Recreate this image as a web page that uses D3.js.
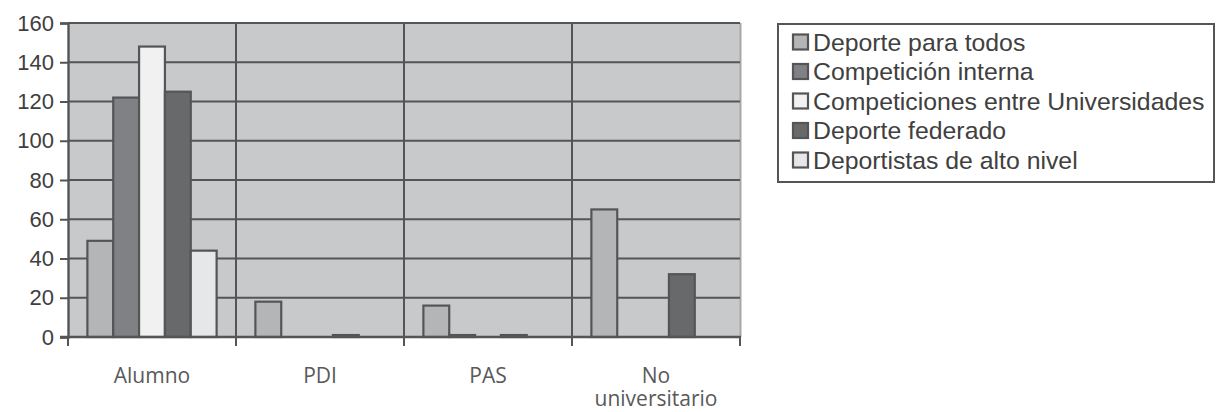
<!DOCTYPE html>
<html>
<head>
<meta charset="utf-8">
<script src="https://cdn.jsdelivr.net/npm/d3@7"></script>
<style>
  html, body { margin: 0; padding: 0; background: #ffffff; }
  svg { display: block; }
</style>
</head>
<body>
<svg id="chart" width="1216" height="412"></svg>
<script>
// Participants by group and type of sports activity
const categories = ["Alumno", "PDI", "PAS", "No universitario"];
const seriesNames = [
  "Deporte para todos",
  "Competición interna",
  "Competiciones entre Universidades",
  "Deporte federado",
  "Deportistas de alto nivel"
];
const deporteParaTodos      = [49, 18, 16, 65];
const competicionInterna    = [122, 0, 1, 0];
const competicionesEntreUni = [148, 0, 0, 0];
const deporteFederado       = [125, 1, 1, 32];
const deportistasAltoNivel  = [44, 0, 0, 0];
const yTicks = [0, 20, 40, 60, 80, 100, 120, 140, 160];

const seriesValues = [deporteParaTodos, competicionInterna, competicionesEntreUni, deporteFederado, deportistasAltoNivel];
const seriesColors = ["#b4b5b7", "#808184", "#f1f1f1", "#68696b", "#e6e7e8"];

const svg = d3.select("#chart");
const plot = { left: 68, right: 740, top: 23, bottom: 337 };
const lineColor = "#555556";

const x = d3.scaleBand().domain(categories).range([plot.left, plot.right]).paddingInner(0).paddingOuter(0);
const xInner = d3.scaleBand().domain(d3.range(seriesNames.length)).range([0, x.bandwidth()]).paddingInner(0).paddingOuter(0.75);
const y = d3.scaleLinear().domain([0, 160]).range([plot.bottom, plot.top]);

// plot background
svg.append("rect")
  .attr("x", plot.left).attr("y", plot.top)
  .attr("width", plot.right - plot.left).attr("height", plot.bottom - plot.top)
  .attr("fill", "#c8c9cb");

// right edge of the plot area
svg.append("line")
  .attr("x1", plot.right + 0.5).attr("x2", plot.right + 0.5)
  .attr("y1", plot.top).attr("y2", plot.bottom)
  .attr("stroke", "#a6a7a9").attr("stroke-width", 2);

// horizontal gridlines
svg.append("g").selectAll("line").data(yTicks.filter(d => d > 0)).join("line")
  .attr("x1", plot.left).attr("x2", plot.right)
  .attr("y1", d => y(d)).attr("y2", d => y(d))
  .attr("stroke", lineColor).attr("stroke-width", 2);

// vertical gridlines between categories
svg.append("g").selectAll("line").data(categories.slice(1)).join("line")
  .attr("x1", d => x(d)).attr("x2", d => x(d))
  .attr("y1", plot.top).attr("y2", plot.bottom)
  .attr("stroke", lineColor).attr("stroke-width", 2);

// bars
const groups = svg.append("g").selectAll("g").data(categories).join("g")
  .attr("transform", d => `translate(${x(d)},0)`);

groups.selectAll("rect")
  .data((c, ci) => seriesValues.map((vals, si) => ({ si, v: vals[ci] })).filter(d => d.v > 0))
  .join("rect")
  .attr("x", d => xInner(d.si))
  .attr("width", xInner.bandwidth())
  .attr("y", d => y(d.v))
  .attr("height", d => y(0) - y(d.v))
  .attr("fill", d => seriesColors[d.si])
  .attr("stroke", lineColor)
  .attr("stroke-width", 2.2);

// y axis
const yAxis = svg.append("g")
  .attr("transform", `translate(${plot.left},0)`)
  .call(d3.axisLeft(y).tickValues(yTicks).tickSize(8).tickPadding(6));
yAxis.select(".domain").attr("stroke", lineColor).attr("stroke-width", 2.4);
yAxis.selectAll(".tick line").attr("stroke", lineColor).attr("stroke-width", 2);
yAxis.selectAll(".tick text")
  .attr("font-family", "Liberation Sans, Arial, sans-serif")
  .attr("font-size", 22).attr("fill", "#404040");

// x axis
const xAxis = svg.append("g")
  .attr("transform", `translate(0,${plot.bottom})`)
  .call(d3.axisBottom(x).tickSize(0).tickFormat(""));
xAxis.select(".domain").remove();
svg.append("line")
  .attr("x1", plot.left - 8).attr("x2", plot.right + 1)
  .attr("y1", plot.bottom).attr("y2", plot.bottom)
  .attr("stroke", lineColor).attr("stroke-width", 2.4);
const boundaries = categories.map(c => x(c)).concat([plot.right]);
svg.append("g").selectAll("line").data(boundaries).join("line")
  .attr("x1", d => d).attr("x2", d => d)
  .attr("y1", plot.bottom).attr("y2", plot.bottom + 9)
  .attr("stroke", lineColor).attr("stroke-width", 2);

const xLabels = svg.append("g").selectAll("text").data(categories).join("text")
  .attr("x", d => x(d) + x.bandwidth() / 2)
  .attr("y", 383)
  .attr("text-anchor", "middle")
  .attr("font-family", "Open Sans, sans-serif")
  .attr("font-size", 21)
  .attr("fill", "#595959");
xLabels.each(function(d) {
  const words = d === "No universitario" ? ["No", "universitario"] : [d];
  const t = d3.select(this);
  words.forEach((w, i) => {
    t.append("tspan").attr("x", x(d) + x.bandwidth() / 2).attr("dy", i === 0 ? 0 : 22.5).text(w);
  });
});

// legend
const legend = svg.append("g");
legend.append("rect")
  .attr("x", 778).attr("y", 24).attr("width", 436).attr("height", 158)
  .attr("fill", "#ffffff").attr("stroke", lineColor).attr("stroke-width", 2);
const items = legend.selectAll("g.item").data(seriesNames).join("g")
  .attr("class", "item")
  .attr("transform", (d, i) => `translate(0,${42 + i * 29.5})`);
items.append("rect")
  .attr("x", 793).attr("y", -7.5).attr("width", 15).attr("height", 15)
  .attr("fill", (d, i) => seriesColors[i])
  .attr("stroke", lineColor).attr("stroke-width", 2.2);
items.append("text")
  .attr("x", 813).attr("y", 8.5)
  .attr("font-family", "Liberation Sans, Arial, sans-serif")
  .attr("font-size", 24.8)
  .attr("fill", "#404040")
  .text(d => d);
</script>
</body>
</html>
